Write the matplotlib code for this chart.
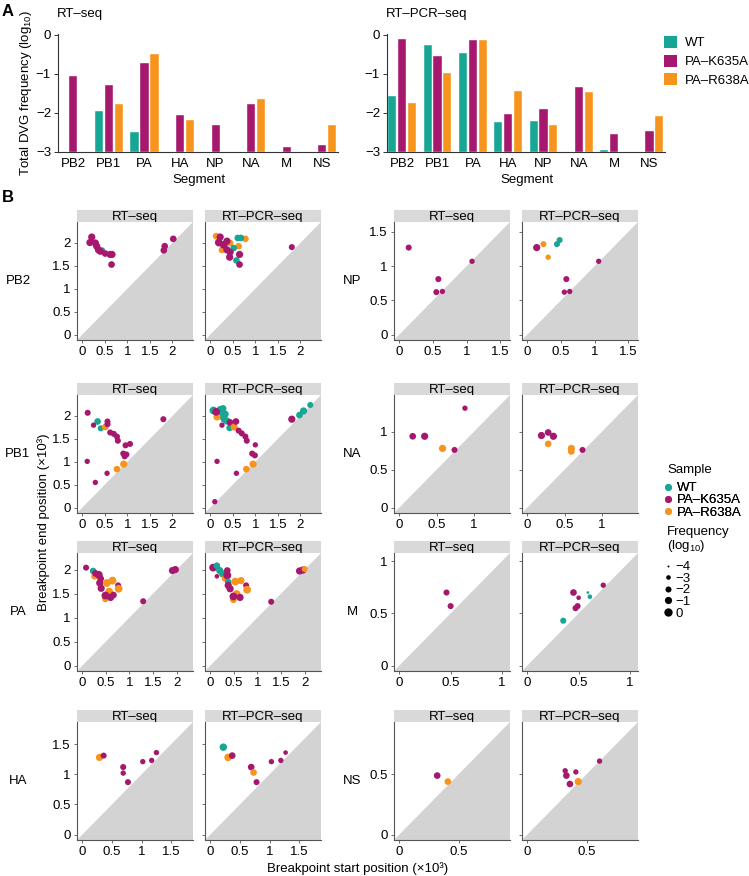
import numpy as np
import matplotlib
matplotlib.use('Agg')
import matplotlib.pyplot as plt
from matplotlib.patches import Patch
from matplotlib.lines import Line2D

plt.rcParams['font.family'] = ['Liberation Sans', 'DejaVu Sans']
plt.rcParams['mathtext.fontset'] = 'custom'
plt.rcParams['mathtext.rm'] = 'Liberation Sans'
plt.rcParams['mathtext.it'] = 'Liberation Sans:italic'
plt.rcParams['font.size'] = 9

W, H = 749, 876
COLORS = {'WT': '#17A694', 'K': '#A5186D', 'R': '#F7941D'}
LABELS = {'WT': 'WT', 'K': 'PA–K635A', 'R': 'PA–R638A'}
SAMPLES = ['WT', 'K', 'R']

# ---------- panel A: total DVG frequency (log10); nan = no bar ----------
SEGMENTS = ['PB2', 'PB1', 'PA', 'HA', 'NP', 'NA', 'M', 'NS']
nan = np.nan
RT_TOTAL = {
    'WT': [nan, -1.94, -2.50, nan, nan, nan, nan, nan],
    'K': [-1.05, -1.28, -0.72, -2.06, -2.30, -1.76, -2.86, -2.81],
    'R': [nan, -1.77, -0.49, -2.17, nan, -1.65, nan, -2.31],
}
PCR_TOTAL = {
    'WT': [-1.57, -0.27, -0.47, -2.24, -2.21, nan, -2.95, nan],
    'K': [-0.10, -0.54, -0.14, -2.04, -1.90, -1.33, -2.53, -2.45],
    'R': [-1.74, -0.97, -0.14, -1.43, -2.32, -1.46, nan, -2.08],
}

# ---------- panel B: breakpoints (start, end in kb), sample, log10 freq ----------
SEG_LEN = {'PB2': 2.341, 'PB1': 2.341, 'PA': 2.233, 'HA': 1.778,
           'NP': 1.565, 'NA': 1.413, 'M': 1.027, 'NS': 0.890}
SEG_TICKS = {'PB2': [0, 0.5, 1, 1.5, 2], 'PB1': [0, 0.5, 1, 1.5, 2],
             'PA': [0, 0.5, 1, 1.5, 2], 'HA': [0, 0.5, 1, 1.5],
             'NP': [0, 0.5, 1, 1.5], 'NA': [0, 0.5, 1], 'M': [0, 0.5, 1],
             'NS': [0, 0.5]}

PB2_RT = [(0.44, 1.84, 'WT', -2), (0.21, 2.13, 'K', -1), (0.17, 2.01, 'K', -1),
          (0.29, 2.00, 'K', -1), (0.32, 1.93, 'K', -1), (0.36, 1.85, 'K', -1),
          (0.40, 1.82, 'K', -1), (0.51, 1.77, 'K', -1.5), (0.62, 1.75, 'K', -1),
          (0.66, 1.75, 'K', -1), (0.65, 1.53, 'K', -1.5), (1.83, 1.93, 'K', -1.5),
          (1.81, 1.84, 'K', -1.5), (2.02, 2.09, 'K', -1.5)]
PB2_PCR = [(0.13, 2.15, 'R', -1.5), (0.44, 2.00, 'R', -1.5), (0.26, 1.85, 'R', -1.5),
           (0.78, 2.09, 'R', -1.5), (0.63, 1.93, 'R', -1.5), (0.61, 2.11, 'WT', -1.5),
           (0.68, 2.11, 'WT', -1.5), (0.52, 1.89, 'WT', -1.5), (0.58, 1.62, 'WT', -1.5),
           (0.22, 2.13, 'K', -1), (0.19, 2.01, 'K', -0.5), (0.30, 1.96, 'K', -0.5),
           (0.37, 2.04, 'K', -1), (0.37, 1.85, 'K', -1), (0.44, 1.80, 'K', -1),
           (0.43, 1.69, 'K', -1), (0.65, 1.75, 'K', -1), (0.65, 1.53, 'K', -1.5),
           (1.81, 1.91, 'K', -2)]
PB1_RT = [(0.34, 1.88, 'WT', -1.5), (0.41, 1.73, 'WT', -2), (0.12, 2.07, 'K', -2),
          (0.25, 1.80, 'K', -2.5), (0.51, 1.76, 'R', -1.5), (0.56, 1.88, 'K', -2),
          (0.56, 1.82, 'K', -2), (0.62, 1.64, 'K', -2), (0.70, 1.61, 'K', -2),
          (0.77, 1.55, 'K', -2), (0.79, 1.46, 'K', -2), (0.96, 1.36, 'K', -2),
          (1.06, 1.39, 'K', -2), (0.91, 1.18, 'K', -2), (0.94, 1.12, 'K', -2),
          (0.98, 1.16, 'K', -2), (0.92, 0.95, 'R', -1), (0.77, 0.84, 'R', -1.5),
          (0.11, 1.01, 'K', -2.5), (0.55, 0.75, 'K', -2.5), (0.29, 0.55, 'K', -2.5),
          (1.80, 1.93, 'K', -2)]
PB1_PCR = [(0.07, 2.12, 'WT', -0.5), (0.22, 2.14, 'WT', -1), (0.28, 2.16, 'WT', -1),
           (0.18, 2.05, 'WT', -1), (0.25, 2.00, 'WT', -1), (0.33, 2.04, 'WT', -1),
           (0.31, 1.93, 'WT', -1), (0.37, 1.89, 'WT', -1), (0.43, 1.74, 'WT', -1.5),
           (0.15, 1.98, 'R', -1), (0.13, 2.09, 'K', -0.5), (0.26, 1.80, 'K', -2.5),
           (0.44, 1.86, 'K', -1.5), (0.53, 1.76, 'R', -1), (0.57, 1.88, 'K', -1.5),
           (0.63, 1.68, 'K', -2), (0.70, 1.62, 'K', -2), (0.78, 1.55, 'K', -2),
           (0.81, 1.46, 'K', -2), (1.00, 1.37, 'K', -2.5), (0.93, 1.18, 'K', -2),
           (0.99, 1.14, 'K', -2), (0.95, 0.95, 'R', -1), (0.80, 0.84, 'R', -1.5),
           (0.15, 1.01, 'K', -2.5), (0.58, 0.75, 'K', -2.5), (0.10, 0.13, 'K', -2.5),
           (1.81, 1.93, 'K', -1), (1.98, 2.02, 'WT', -1.5), (2.07, 2.11, 'WT', -1),
           (2.22, 2.24, 'WT', -2)]
PA_RT = [(0.08, 2.04, 'K', -2), (0.23, 1.97, 'WT', -1.5), (0.26, 1.86, 'R', -1.5),
         (0.28, 1.92, 'K', -1.5), (0.35, 1.89, 'K', -0.5), (0.39, 1.81, 'K', -1.5),
         (0.37, 1.72, 'K', -1), (0.52, 1.72, 'R', -0.5), (0.64, 1.77, 'R', -0.5),
         (0.40, 1.61, 'K', -1), (0.57, 1.54, 'R', -0.5), (0.49, 1.39, 'R', -1.5),
         (0.49, 1.46, 'K', -0.5), (0.60, 1.42, 'K', -1), (0.66, 1.47, 'K', -1.5),
         (0.76, 1.67, 'K', -2), (0.77, 1.60, 'R', -0.5), (1.29, 1.34, 'K', -2),
         (1.91, 1.98, 'K', -1), (1.97, 2.00, 'K', -1)]
PA_PCR = [(0.06, 2.04, 'K', -0.5), (0.14, 2.08, 'WT', -1.5), (0.20, 1.98, 'WT', -1),
          (0.26, 1.91, 'WT', -1), (0.14, 1.86, 'K', -3), (0.36, 1.98, 'K', -1.5),
          (0.31, 1.82, 'R', -1.5), (0.36, 1.88, 'K', -0.3), (0.38, 1.74, 'WT', -1.5),
          (0.38, 1.67, 'K', -1), (0.53, 1.75, 'R', -0.5), (0.65, 1.77, 'R', -1),
          (0.42, 1.60, 'K', -1), (0.56, 1.49, 'R', -0.5), (0.49, 1.37, 'R', -1.5),
          (0.49, 1.44, 'K', -0.5), (0.63, 1.42, 'K', -1), (0.76, 1.67, 'K', -2),
          (0.78, 1.58, 'R', -0.5), (1.29, 1.33, 'K', -2), (1.89, 1.97, 'K', -1),
          (1.96, 1.99, 'K', -1), (2.00, 2.01, 'R', -2)]
HA_RT = [(0.29, 1.28, 'R', -1), (0.36, 1.31, 'K', -2), (0.69, 1.12, 'K', -2),
         (0.69, 1.02, 'K', -2.5), (0.77, 0.87, 'K', -2), (1.02, 1.21, 'K', -2.5),
         (1.17, 1.23, 'K', -2.5), (1.25, 1.36, 'K', -2.5)]
HA_PCR = [(0.22, 1.45, 'WT', -0.8), (0.30, 1.28, 'R', -0.8), (0.37, 1.31, 'K', -1.5),
          (0.69, 1.12, 'K', -1.5), (0.73, 1.03, 'R', -1.5), (0.78, 0.87, 'K', -2),
          (1.03, 1.21, 'K', -2.5), (1.19, 1.23, 'K', -2.5), (1.27, 1.36, 'K', -3)]
NP_RT = [(0.14, 1.27, 'K', -2), (0.58, 0.81, 'K', -2), (0.55, 0.62, 'K', -2),
         (0.64, 0.63, 'K', -2.5), (1.08, 1.07, 'K', -2.5)]
NP_PCR = [(0.14, 1.27, 'K', -1), (0.24, 1.32, 'R', -2), (0.31, 1.13, 'R', -2.5),
          (0.44, 1.32, 'WT', -2), (0.48, 1.38, 'WT', -2), (0.58, 0.81, 'K', -2),
          (0.55, 0.62, 'K', -2.5), (0.63, 0.63, 'K', -2.5), (1.06, 1.07, 'K', -2.5)]
NA_RT = [(0.18, 0.94, 'K', -1.5), (0.34, 0.94, 'K', -1), (0.58, 0.78, 'R', -1),
         (0.74, 0.76, 'K', -2), (0.88, 1.31, 'K', -2.5)]
NA_PCR = [(0.19, 0.95, 'K', -1), (0.28, 0.99, 'K', -1.5), (0.35, 0.94, 'K', -1),
          (0.28, 0.84, 'R', -1.5), (0.59, 0.74, 'R', -1.5), (0.59, 0.78, 'R', -1),
          (0.74, 0.76, 'K', -2)]
M_RT = [(0.46, 0.70, 'K', -2), (0.50, 0.57, 'K', -2)]
M_PCR = [(0.45, 0.70, 'K', -1.5), (0.50, 0.65, 'K', -3), (0.47, 0.55, 'K', -2),
         (0.49, 0.57, 'K', -2), (0.59, 0.70, 'WT', -3.8), (0.61, 0.66, 'WT', -3),
         (0.74, 0.77, 'K', -2.5), (0.35, 0.43, 'WT', -2)]
NS_RT = [(0.32, 0.49, 'K', -1.5), (0.41, 0.44, 'R', -1.5)]
NS_PCR = [(0.32, 0.53, 'K', -2.5), (0.33, 0.49, 'K', -1.5), (0.41, 0.52, 'K', -2.5),
          (0.36, 0.42, 'K', -1.5), (0.43, 0.44, 'R', -1), (0.61, 0.61, 'K', -2.5)]

PANELS = {'PB2': (PB2_RT, PB2_PCR), 'PB1': (PB1_RT, PB1_PCR), 'PA': (PA_RT, PA_PCR),
          'HA': (HA_RT, HA_PCR), 'NP': (NP_RT, NP_PCR), 'NA': (NA_RT, NA_PCR),
          'M': (M_RT, M_PCR), 'NS': (NS_RT, NS_PCR)}

# point area (pt^2) vs log10 frequency
FREQ_LEVELS = [-4, -3, -2, -1, 0]
AREA_LEVELS = [2, 11, 19, 27, 36]


def area(f):
    return np.interp(f, FREQ_LEVELS, AREA_LEVELS)


fig = plt.figure(figsize=(W / 100, H / 100), dpi=100)


def px_axes(x, y, w, h):
    return fig.add_axes([x / W, 1 - (y + h) / H, w / W, h / H])


def ftext(x, y, s, **kw):
    fig.text(x / W, 1 - y / H, s, **kw)


AXC = '#333333'

# ---------------- panel A ----------------
for x0, w, title, totals in [(58, 280, 'RT–seq', RT_TOTAL),
                             (387, 278, 'RT–PCR–seq', PCR_TOTAL)]:
    ax = px_axes(x0, 34, w, 118)
    xs = np.arange(len(SEGMENTS))
    for i, s in enumerate(SAMPLES):
        vals = np.array(totals[s])
        ok = ~np.isnan(vals)
        ax.bar(xs[ok] + (i - 1) * 0.28, vals[ok] + 3, bottom=-3, width=0.23,
               color=COLORS[s], edgecolor='white', linewidth=0.3)
    ax.set_xlim(-0.43, 7.44)
    ax.set_ylim(-3, 0.02)
    ax.set_yticks([0, -1, -2, -3])
    ax.set_yticklabels(['0', '−1', '−2', '−3'])
    ax.set_xticks(xs)
    ax.set_xticklabels(SEGMENTS)
    for sp in ['top', 'right']:
        ax.spines[sp].set_visible(False)
    for sp in ['left', 'bottom']:
        ax.spines[sp].set_color(AXC)
        ax.spines[sp].set_linewidth(0.8)
    ax.tick_params(axis='y', length=3, width=0.7, color=AXC, pad=2, labelsize=9.5)
    ax.tick_params(axis='x', length=0, pad=4, labelsize=9.5)
    ftext(x0 - 1, 14, title, ha='left', va='center', fontsize=9.5)
    ftext(x0 + w / 2 + 1, 180, 'Segment', ha='center', va='center', fontsize=9.5)

ftext(26, 93, 'Total DVG frequency (log$_{10}$)', rotation=90,
      ha='center', va='center', fontsize=9.5)
ftext(2, 12, 'A', fontweight='bold', fontsize=12, ha='left', va='center')
ftext(2, 198, 'B', fontweight='bold', fontsize=12, ha='left', va='center')

fig.legend(handles=[Patch(facecolor=COLORS[s], label=LABELS[s]) for s in SAMPLES],
           loc='upper left', bbox_to_anchor=(664 / W, 1 - 36 / H), frameon=False,
           handlelength=1.0, handleheight=1.0, handletextpad=0.6,
           labelspacing=0.4, fontsize=9.5, borderpad=0, borderaxespad=0)

# ---------------- panel B ----------------
ROW_TOPS = [222, 395, 553, 722]
PH, PW, HDR = 118, 116, 12
LEFT_COLS = (77, 205)
RIGHT_COLS = (394, 522)
LAYOUT = [('PB2', 'NP'), ('PB1', 'NA'), ('PA', 'M'), ('HA', 'NS')]

for r, (segL, segR) in enumerate(LAYOUT):
    top = ROW_TOPS[r]
    for seg, cols, lab_x in [(segL, LEFT_COLS, 18), (segR, RIGHT_COLS, 352)]:
        ftext(lab_x, top + PH / 2, seg, ha='center', va='center', fontsize=9.5)
        L = SEG_LEN[seg]
        lo, hi = -0.05 * L, 1.05 * L
        for j, (cx, pts, method) in enumerate(zip(cols, PANELS[seg],
                                                  ['RT–seq', 'RT–PCR–seq'])):
            hax = px_axes(cx, top - HDR, PW, HDR)
            hax.set_facecolor('#D9D9D9')
            hax.set_xticks([])
            hax.set_yticks([])
            for sp in hax.spines.values():
                sp.set_visible(False)
            hax.text(0.5, 0.45, method, ha='center', va='center', fontsize=9.5,
                     transform=hax.transAxes)

            ax = px_axes(cx, top, PW, PH)
            ax.fill([lo, hi, hi], [lo, lo, hi], color='#D3D3D3', lw=0, zorder=0)
            xs = [p[0] for p in pts]
            ys = [p[1] for p in pts]
            cs = [COLORS[p[2]] for p in pts]
            ss = [area(p[3]) for p in pts]
            ax.scatter(xs, ys, c=cs, s=ss, edgecolors='none', zorder=2)
            ax.set_xlim(lo, hi)
            ax.set_ylim(lo, hi)
            ticks = SEG_TICKS[seg]
            ax.set_xticks(ticks)
            ax.set_yticks(ticks)
            ax.set_xticklabels(['%g' % t for t in ticks])
            if j == 0:
                ax.set_yticklabels(['%g' % t for t in ticks])
            else:
                ax.set_yticklabels([])
            for sp in ['top', 'right']:
                ax.spines[sp].set_visible(False)
            for sp in ['left', 'bottom']:
                ax.spines[sp].set_color('#555555')
                ax.spines[sp].set_linewidth(0.8)
            ax.tick_params(length=2.5, width=0.6, color='#555555', pad=2,
                           labelsize=9.5)

ftext(44, 522, 'Breakpoint end position (×10³)', rotation=90,
      ha='center', va='center', fontsize=9.5)
ftext(358, 869, 'Breakpoint start position (×10³)', ha='center', va='center',
      fontsize=9.5)

# legends of panel B (titles as separate text for exact spacing)
ftext(667, 470, 'Sample', ha='left', va='center', fontsize=9.5)
leg1 = fig.legend(handles=[Line2D([], [], marker='o', ls='', color=COLORS[s],
                                  markeredgewidth=0, markersize=5, label=LABELS[s])
                           for s in SAMPLES],
                  loc='upper left', bbox_to_anchor=(665 / W, 1 - 482 / H),
                  frameon=False, handlelength=0.5, handletextpad=0.4,
                  labelspacing=0.0, fontsize=9.5, borderpad=0, borderaxespad=0)
fig.add_artist(leg1)
ftext(667, 526, 'Frequency\n(log$_{10}$)', ha='left', va='top', fontsize=9.5,
      linespacing=1.0)
fig.legend(handles=[Line2D([], [], marker='o', ls='', color='black',
                           markeredgewidth=0, markersize=np.sqrt(area(f)),
                           label=('%d' % f).replace('-', '−'))
                    for f in FREQ_LEVELS],
           loc='upper left', bbox_to_anchor=(665 / W, 1 - 561 / H), frameon=False,
           handlelength=0.5, handletextpad=0.3, labelspacing=-0.05,
           fontsize=9.5, borderpad=0, borderaxespad=0)

fig.savefig('out.png', dpi=100)
